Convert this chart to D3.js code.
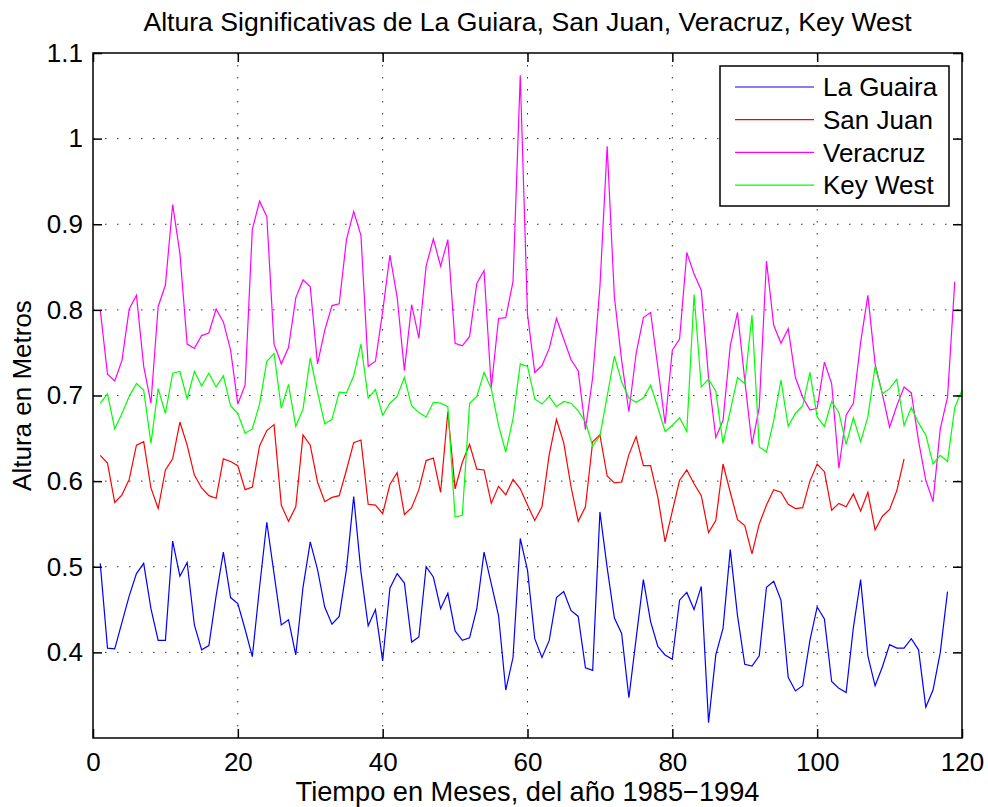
<!DOCTYPE html>
<html>
<head>
<meta charset="utf-8">
<title>Altura Significativas</title>
<script src="https://cdn.jsdelivr.net/npm/d3@7"></script>
<style>
  body { margin: 0; background: #fff; }
  text { font-family: "Liberation Sans", Arial, Helvetica, sans-serif; }
</style>
</head>
<body>
<div id="chart"></div>
<script>
// monthly significant wave heights (m), month index starting at 1
var laGuaira = [0.504,0.405,0.404,0.435,0.466,0.492,0.504,0.451,0.414,0.414,
  0.530,0.489,0.505,0.432,0.403,0.408,0.466,0.517,0.464,0.457,
  0.427,0.395,0.476,0.552,0.492,0.432,0.438,0.397,0.476,0.529,
  0.497,0.453,0.433,0.442,0.497,0.582,0.494,0.431,0.450,0.390,
  0.475,0.492,0.481,0.412,0.418,0.500,0.488,0.451,0.469,0.425,
  0.414,0.417,0.451,0.517,0.480,0.443,0.356,0.394,0.533,0.496,
  0.416,0.394,0.414,0.464,0.471,0.449,0.442,0.382,0.379,0.564,
  0.499,0.440,0.422,0.347,0.416,0.485,0.436,0.407,0.397,0.392,
  0.461,0.470,0.450,0.477,0.318,0.397,0.428,0.520,0.443,0.386,
  0.384,0.396,0.476,0.483,0.461,0.371,0.355,0.361,0.414,0.453,
  0.439,0.366,0.358,0.353,0.429,0.485,0.396,0.361,0.383,0.409,
  0.405,0.405,0.416,0.403,0.336,0.356,0.400,0.471];

var sanJuan = [0.630,0.621,0.575,0.584,0.602,0.642,0.646,0.592,0.568,0.613,
  0.626,0.669,0.642,0.607,0.592,0.583,0.580,0.626,0.623,0.618,
  0.590,0.593,0.641,0.659,0.666,0.572,0.553,0.570,0.654,0.642,
  0.599,0.576,0.581,0.583,0.613,0.645,0.648,0.573,0.572,0.562,
  0.596,0.610,0.561,0.569,0.590,0.624,0.627,0.587,0.681,0.591,
  0.622,0.643,0.614,0.613,0.574,0.594,0.584,0.602,0.591,0.572,
  0.554,0.570,0.631,0.672,0.645,0.594,0.553,0.570,0.646,0.654,
  0.606,0.598,0.599,0.631,0.652,0.618,0.618,0.581,0.529,0.565,
  0.601,0.613,0.597,0.583,0.540,0.554,0.620,0.587,0.555,0.548,
  0.515,0.550,0.572,0.590,0.587,0.573,0.568,0.569,0.600,0.620,
  0.611,0.566,0.574,0.570,0.585,0.565,0.587,0.543,0.559,0.567,
  0.589,0.626];

var veracruz = [0.800,0.725,0.717,0.741,0.801,0.817,0.734,0.691,0.804,0.829,
  0.923,0.866,0.760,0.755,0.770,0.773,0.801,0.786,0.753,0.690,
  0.712,0.894,0.927,0.909,0.760,0.737,0.756,0.814,0.835,0.827,
  0.737,0.776,0.805,0.807,0.882,0.915,0.887,0.734,0.740,0.798,
  0.864,0.815,0.729,0.806,0.767,0.851,0.883,0.851,0.882,0.761,
  0.758,0.769,0.831,0.846,0.709,0.790,0.791,0.833,1.074,0.795,
  0.727,0.735,0.755,0.790,0.766,0.742,0.729,0.660,0.721,0.827,
  0.991,0.815,0.741,0.681,0.749,0.791,0.797,0.733,0.667,0.753,
  0.766,0.867,0.842,0.823,0.721,0.651,0.671,0.758,0.797,0.718,
  0.643,0.686,0.857,0.782,0.761,0.778,0.721,0.698,0.683,0.685,
  0.739,0.714,0.615,0.677,0.691,0.762,0.817,0.737,0.702,0.663,
  0.688,0.710,0.703,0.647,0.601,0.576,0.661,0.698,0.833];

var keyWest = [0.691,0.702,0.661,0.679,0.699,0.714,0.706,0.644,0.708,0.679,
  0.726,0.728,0.696,0.728,0.711,0.726,0.710,0.723,0.688,0.679,
  0.656,0.661,0.690,0.740,0.749,0.685,0.713,0.664,0.684,0.744,
  0.704,0.667,0.672,0.704,0.703,0.723,0.760,0.697,0.707,0.677,
  0.691,0.699,0.721,0.688,0.680,0.675,0.692,0.691,0.687,0.558,
  0.560,0.691,0.699,0.727,0.708,0.665,0.634,0.673,0.737,0.734,
  0.696,0.690,0.699,0.687,0.693,0.691,0.682,0.669,0.641,0.653,
  0.699,0.746,0.716,0.697,0.692,0.697,0.712,0.686,0.658,0.665,
  0.674,0.658,0.818,0.710,0.719,0.705,0.644,0.682,0.721,0.714,
  0.794,0.640,0.634,0.671,0.718,0.664,0.679,0.688,0.727,0.675,
  0.664,0.693,0.680,0.643,0.674,0.646,0.675,0.734,0.702,0.708,
  0.719,0.665,0.686,0.668,0.654,0.620,0.630,0.623,0.686,0.706];

var seriesNames = ["La Guaira", "San Juan", "Veracruz", "Key West"];
var seriesColors = ["#0000ff", "#ff0000", "#ff00ff", "#00ff00"];
var seriesData = [laGuaira, sanJuan, veracruz, keyWest];

var xTicks = [0, 20, 40, 60, 80, 100, 120];
var yTicks = [0.4, 0.5, 0.6, 0.7, 0.8, 0.9, 1.0, 1.1];

var titleText = "Altura Significativas de La Guiara, San Juan, Veracruz, Key West";
var xLabelText = "Tiempo en Meses, del año 1985\u22121994";
var yLabelText = "Altura en Metros";

var W = 988, H = 807;
var margin = {left: 93, right: 26, top: 53, bottom: 69};
var iw = W - margin.left - margin.right;
var ih = H - margin.top - margin.bottom;

var svg = d3.select("#chart").append("svg")
    .attr("width", W).attr("height", H);

var g = svg.append("g")
    .attr("transform", "translate(" + margin.left + "," + margin.top + ")");

var x = d3.scaleLinear().domain([0, 120]).range([0, iw]);
var y = d3.scaleLinear().domain([0.3, 1.1]).range([ih, 0]);

// dotted grid
g.append("g").selectAll("line").data(xTicks.slice(1, -1)).enter().append("line")
    .attr("x1", function(d) { return x(d); }).attr("x2", function(d) { return x(d); })
    .attr("y1", 0).attr("y2", ih)
    .attr("stroke", "#333").attr("stroke-width", 1).attr("stroke-dasharray", "1.5,10.5");
g.append("g").selectAll("line").data(yTicks.slice(0, -1)).enter().append("line")
    .attr("y1", function(d) { return y(d); }).attr("y2", function(d) { return y(d); })
    .attr("x1", 0).attr("x2", iw)
    .attr("stroke", "#333").attr("stroke-width", 1).attr("stroke-dasharray", "1.5,10.5");

// series
var line = d3.line()
    .x(function(d, i) { return x(i + 1); })
    .y(function(d) { return y(d); });

seriesData.forEach(function(s, k) {
  g.append("path").datum(s)
    .attr("d", line)
    .attr("fill", "none")
    .attr("stroke", seriesColors[k])
    .attr("stroke-width", 1.2)
    .attr("stroke-linejoin", "miter");
});

// axes with inward ticks on all sides
var fmt = function(d) { return d3.format("")(+d.toFixed(1)); };
var tk = 9;
var axB = g.append("g").attr("transform", "translate(0," + ih + ")")
    .call(d3.axisBottom(x).tickValues(xTicks).tickSizeInner(-tk).tickSizeOuter(0).tickPadding(10));
var axL = g.append("g")
    .call(d3.axisLeft(y).tickValues(yTicks).tickFormat(fmt).tickSizeInner(-tk).tickSizeOuter(0).tickPadding(10));
var axT = g.append("g")
    .call(d3.axisTop(x).tickValues(xTicks).tickSizeInner(-tk).tickSizeOuter(0).tickFormat(""));
var axR = g.append("g").attr("transform", "translate(" + iw + ",0)")
    .call(d3.axisRight(y).tickValues(yTicks).tickSizeInner(-tk).tickSizeOuter(0).tickFormat(""));

[axB, axL, axT, axR].forEach(function(a) {
  a.select(".domain").remove();
  a.selectAll(".tick line").attr("stroke", "#000").attr("stroke-width", 1.5);
  a.selectAll(".tick text").attr("fill", "#000").style("font-size", "26px");
});
axB.selectAll(".tick text").attr("dy", "0.9em");

g.append("rect").attr("x", 0).attr("y", 0).attr("width", iw).attr("height", ih)
    .attr("fill", "none").attr("stroke", "#000").attr("stroke-width", 1.5);

// labels
svg.append("text").attr("x", margin.left + iw / 2).attr("y", 31)
    .attr("text-anchor", "middle").style("font-size", "26.6px").text(titleText);
svg.append("text").attr("x", margin.left + iw / 2).attr("y", 801)
    .attr("text-anchor", "middle").style("font-size", "27.2px").text(xLabelText);
svg.append("text")
    .attr("transform", "translate(31," + (margin.top + ih / 2) + ") rotate(-90)")
    .attr("text-anchor", "middle").style("font-size", "26px").text(yLabelText);

// legend
var lg = svg.append("g").attr("transform", "translate(720,66)");
lg.append("rect").attr("width", 229).attr("height", 140)
    .attr("fill", "#fff").attr("stroke", "#000").attr("stroke-width", 1.5);
seriesNames.forEach(function(name, k) {
  var yy = 21 + k * 32.7;
  lg.append("line").attr("x1", 15).attr("x2", 94).attr("y1", yy).attr("y2", yy)
    .attr("stroke", seriesColors[k]).attr("stroke-width", 1.2);
  lg.append("text").attr("x", 103).attr("y", yy).attr("dy", "0.35em")
    .style("font-size", "26px").text(name);
});
</script>
</body>
</html>
